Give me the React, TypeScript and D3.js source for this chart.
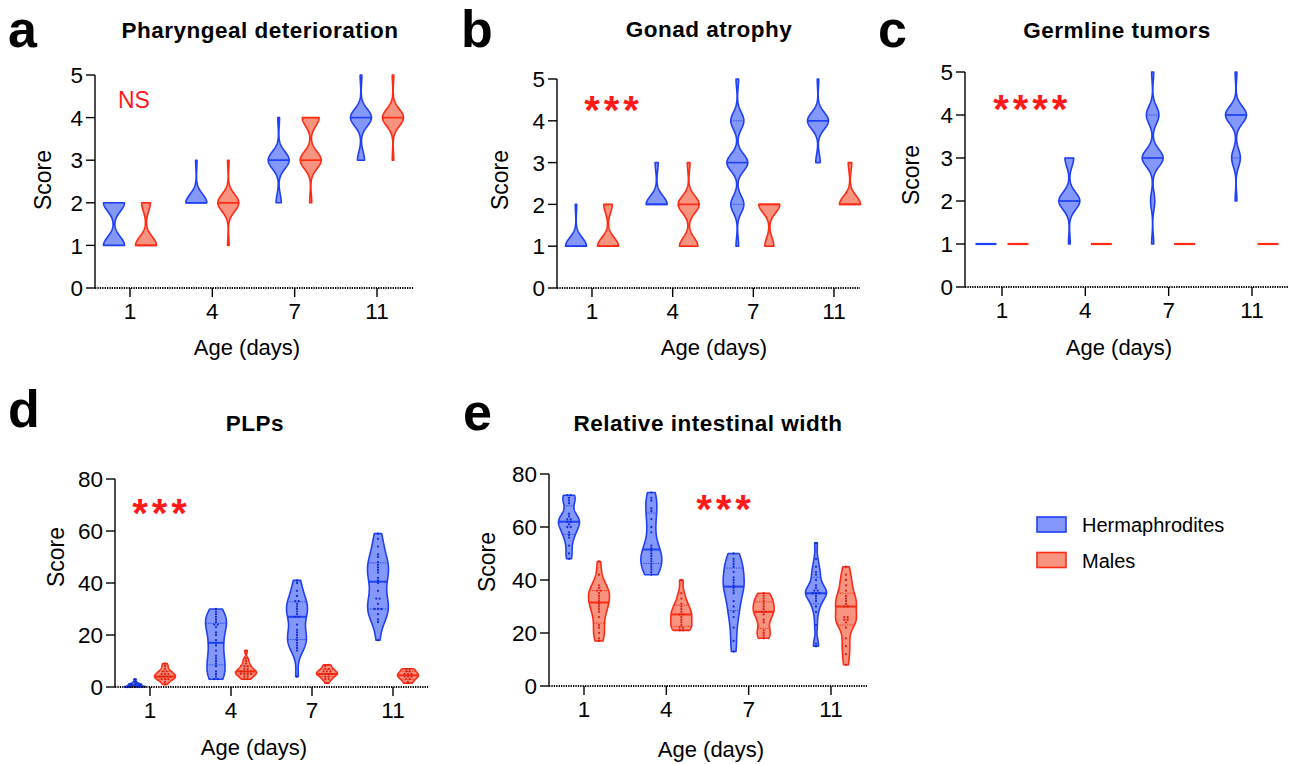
import React from 'react';
import * as d3 from 'd3';

const ages = ['1', '4', '7', '11'];
const scoreLevels = [1, 2, 3, 4, 5];

// number of animals at each score (1..5), one row per age
const pharynxHerm = [[10, 10, 0, 0, 0], [0, 15, 1, 0, 0], [0, 3, 12, 1, 0], [0, 0, 4, 12, 1]];
const pharynxMale = [[12, 5, 0, 0, 0], [1, 14, 1, 0, 0], [0, 1, 10, 8, 0], [0, 0, 1, 14, 1]];
const gonadHerm = [[15, 1, 0, 0, 0], [0, 14, 2, 0, 0], [1, 5, 8, 5, 1], [0, 0, 3, 14, 1]];
const gonadMale = [[10, 4, 0, 0, 0], [7, 8, 1, 0, 0], [3, 7, 0, 0, 0], [0, 12, 2, 0, 0]];
const tumorHerm = [[20, 0, 0, 0, 0], [1, 12, 5, 0, 0], [1, 2, 10, 6, 1], [0, 1, 5, 12, 1]];
const tumorMale = [[20, 0, 0, 0, 0], [20, 0, 0, 0, 0], [20, 0, 0, 0, 0], [20, 0, 0, 0, 0]];

// PLP counts per animal
const plpHerm = [
  [0, 0, 0, 0, 0, 0, 0, 0.5, 0.5, 1, 1, 1, 1, 1.5, 2, 3],
  [3, 3, 4, 5, 6, 8, 9, 10, 11, 12, 14, 16, 17, 18, 20, 21, 23, 24, 24, 25, 26, 27, 28, 29, 30],
  [4, 14, 15, 16, 17, 18, 19, 20, 21, 22, 24, 27, 27, 28, 29, 30, 31, 32, 33, 33, 35, 37, 40, 41],
  [18, 25, 26, 28, 30, 30, 30, 32, 34, 34, 37, 40, 41, 42, 44, 45, 46, 47, 48, 50, 51, 54, 57, 59],
];
const plpMale = [
  [1, 2, 3, 3, 3, 4, 4, 4, 4, 5, 5, 5, 6, 6, 7, 8, 9],
  [3, 3, 4, 4, 5, 5, 5, 5, 6, 6, 6, 6, 7, 7, 8, 8, 9, 10, 11, 14],
  [1.5, 3, 3, 4, 4, 5, 5, 5, 5, 6, 6, 6, 7, 7, 8, 8.5],
  [1.5, 2, 3, 3, 4, 4, 4, 5, 5, 5, 6, 6, 7, 7],
];

// relative intestinal width per animal
const gutHerm = [
  [48, 50, 53, 56, 57, 58, 60, 60, 61, 62, 62, 63, 63, 64, 65, 69, 70, 71, 72, 72],
  [42, 43, 44, 45, 46, 47, 48, 49, 50, 51, 52, 53, 58, 60, 63, 66, 67, 70, 71, 73],
  [13, 17, 22, 26, 28, 30, 32, 35, 36, 37, 38, 39, 40, 41, 43, 45, 46, 47, 48, 50],
  [15, 16, 23, 28, 30, 32, 33, 34, 35, 35, 35, 36, 36, 37, 38, 40, 42, 43, 45, 48, 54],
];
const gutMale = [
  [17, 18, 20, 22, 23, 26, 28, 29, 30, 31, 32, 33, 34, 35, 36, 36, 37, 38, 42, 47],
  [21, 21, 22, 22, 23, 24, 25, 26, 27, 27, 28, 29, 30, 31, 33, 35, 40],
  [18, 19, 20, 21, 24, 25, 27, 28, 28, 29, 30, 31, 32, 33, 34, 35],
  [8, 12, 15, 18, 22, 24, 25, 25, 26, 26, 30, 30, 31, 32, 33, 34, 36, 38, 40, 42, 45],
];

const FONT = '"Liberation Sans", Arial, Helvetica, sans-serif';
const SIG = '#FF1A1A';
const herm = { fill: '#8497FA', stroke: '#1F40F5', dot: '#1230D0' };
const male = { fill: '#F8937F', stroke: '#FF2A14', dot: '#D92416' };

const expand = (counts) => counts.flatMap((c, i) => d3.range(c).map(() => scoreLevels[i]));

const panels = [
  {
    letter: 'a', title: 'Pharyngeal deterioration', herm: pharynxHerm.map(expand), male: pharynxMale.map(expand),
    yMax: 5, yStep: 1, bw: 0.2, dots: false, offset: 16,
    left: 95, right: 413, top: 75, bottom: 288, t0: 130, t1: 377,
    letterPos: [8, 47], titlePos: [260, 38], xLabPos: [247, 355], yLabPos: [43, 180],
    sig: 'NS', sigPos: [118, 108],
  },
  {
    letter: 'b', title: 'Gonad atrophy', herm: gonadHerm.map(expand), male: gonadMale.map(expand),
    yMax: 5, yStep: 1, bw: 0.2, dots: false, offset: 16,
    left: 557, right: 860, top: 79, bottom: 288, t0: 592, t1: 834,
    letterPos: [461, 47], titlePos: [709, 37], xLabPos: [714, 355], yLabPos: [500, 180],
    stars: 3, starPos: [592, 101],
  },
  {
    letter: 'c', title: 'Germline tumors', herm: tumorHerm.map(expand), male: tumorMale.map(expand),
    yMax: 5, yStep: 1, bw: 0.2, dots: false, offset: 16,
    left: 965, right: 1288, top: 72, bottom: 287, t0: 1002, t1: 1252,
    letterPos: [878, 47], titlePos: [1117, 38], xLabPos: [1119, 355], yLabPos: [911, 175],
    stars: 4, starPos: [1001, 100],
  },
  {
    letter: 'd', title: 'PLPs', herm: plpHerm, male: plpMale,
    yMax: 80, yStep: 20, bw: null, dots: true, offset: 15,
    left: 115, right: 428, top: 479, bottom: 687, t0: 150, t1: 393,
    letterPos: [8, 427], titlePos: [255, 431], xLabPos: [254, 755], yLabPos: [56, 557],
    stars: 3, starPos: [140, 504],
  },
  {
    letter: 'e', title: 'Relative intestinal width', herm: gutHerm, male: gutMale,
    yMax: 80, yStep: 20, bw: null, dots: true, offset: 15,
    left: 549, right: 867, top: 474, bottom: 686, t0: 584, t1: 831,
    letterPos: [463, 430], titlePos: [708, 431], xLabPos: [711, 757], yLabPos: [487, 562],
    stars: 3, starPos: [704, 500],
  },
];

// Prism-style quantile, position p*(n+1)
function quantile(s, p) {
  const n = s.length;
  const pos = p * (n + 1);
  if (pos <= 1) return s[0];
  if (pos >= n) return s[n - 1];
  const i = Math.floor(pos);
  return s[i - 1] + (pos - i) * (s[i] - s[i - 1]);
}

function bandwidth(s) {
  const sd = d3.deviation(s) || 1;
  const iqr = d3.quantileSorted(s, 0.75) - d3.quantileSorted(s, 0.25);
  const spread = iqr > 0 ? Math.min(sd, iqr / 1.34) : sd;
  return 0.9 * spread * Math.pow(s.length, -0.2) * 0.8;
}

function Violin({ values, cx, y, bw, halfWidth, col, dots }) {
  const s = values.slice().sort(d3.ascending);
  const lo = s[0];
  const hi = s[s.length - 1];
  if (lo === hi) {
    return <line x1={cx - halfWidth} x2={cx + halfWidth} y1={y(lo)} y2={y(lo)} stroke={col.stroke} strokeWidth={2.2} />;
  }
  const h = bw || bandwidth(s);
  const dens = (v) => d3.sum(s, (d) => Math.exp(-0.5 * ((v - d) / h) ** 2));
  const steps = d3.range(101).map((i) => lo + ((hi - lo) * i) / 100);
  const dv = steps.map(dens);
  const w = d3.scaleLinear().domain([0, d3.max(dv)]).range([0, halfWidth]);
  const area = d3.area()
    .y((v) => y(v))
    .x0((v, i) => cx - w(dv[i]))
    .x1((v, i) => cx + w(dv[i]));

  const med = quantile(s, 0.5);
  const q1 = quantile(s, 0.25);
  const q3 = quantile(s, 0.75);
  const hw = (v) => Math.max(w(dens(v)), 1);

  // spread dots that share a row
  const rows = d3.group(s, (v) => Math.round(y(v) / 2.6));
  const pts = [];
  rows.forEach((vals) => {
    vals.forEach((v, j) => {
      const lim = Math.max(w(dens(v)) - 2, 0);
      const off = Math.max(-lim, Math.min(lim, (j - (vals.length - 1) / 2) * 3.4));
      pts.push([cx + off, y(v)]);
    });
  });

  return (
    <g>
      <path d={area(steps)} fill={col.fill} stroke={col.stroke} strokeWidth={1.6} strokeLinejoin="round" />
      {[q1, q3].map((q, i) => (
        <line key={i} x1={cx - hw(q)} x2={cx + hw(q)} y1={y(q)} y2={y(q)} stroke={col.stroke} strokeWidth={1} strokeDasharray="1.2 1.2" />
      ))}
      <line x1={cx - hw(med)} x2={cx + hw(med)} y1={y(med)} y2={y(med)} stroke={col.stroke} strokeWidth={dots ? 2 : 1.6} />
      {dots && pts.map((p, i) => <circle key={i} cx={p[0]} cy={p[1]} r={1.15} fill={col.dot} />)}
    </g>
  );
}

function Panel({ p }) {
  const y = d3.scaleLinear().domain([0, p.yMax]).range([p.bottom, p.top]);
  const x = d3.scalePoint().domain(ages).range([p.t0, p.t1]);
  const yTicks = d3.range(0, p.yMax + p.yStep / 2, p.yStep);
  return (
    <g fontFamily={FONT}>
      <text x={p.letterPos[0]} y={p.letterPos[1]} fontSize={52} fontWeight="bold">{p.letter}</text>
      <text x={p.titlePos[0]} y={p.titlePos[1]} fontSize={22.5} fontWeight="bold" letterSpacing={0.5} textAnchor="middle">{p.title}</text>

      {ages.map((a, i) => (
        <g key={a}>
          <Violin values={p.herm[i]} cx={x(a) - p.offset} y={y} bw={p.bw} halfWidth={10.5} col={herm} dots={p.dots} />
          <Violin values={p.male[i]} cx={x(a) + p.offset} y={y} bw={p.bw} halfWidth={10.5} col={male} dots={p.dots} />
        </g>
      ))}

      <line x1={p.left} x2={p.left} y1={p.top} y2={p.bottom} stroke="#000" strokeWidth={1.4} />
      {yTicks.map((t) => (
        <g key={t}>
          <line x1={p.left - 9} x2={p.left} y1={y(t)} y2={y(t)} stroke="#000" strokeWidth={1.4} />
          <text x={p.left - 12} y={y(t)} dy="0.36em" fontSize={22.5} textAnchor="end">{t}</text>
        </g>
      ))}
      <line x1={p.left} x2={p.right} y1={y(0)} y2={y(0)} stroke="#000" strokeWidth={2} strokeDasharray="1.3 1.1" />
      {ages.map((a) => (
        <g key={a}>
          <line x1={x(a)} x2={x(a)} y1={y(0)} y2={y(0) + 9} stroke="#000" strokeWidth={1.4} />
          <text x={x(a)} y={y(0) + 31} fontSize={22.5} textAnchor="middle">{a}</text>
        </g>
      ))}
      <text x={p.xLabPos[0]} y={p.xLabPos[1]} fontSize={22} textAnchor="middle">Age (days)</text>
      <text transform={`translate(${p.yLabPos[0]},${p.yLabPos[1]}) rotate(-90)`} dy="0.36em" fontSize={23} textAnchor="middle">Score</text>

      {p.sig && <text x={p.sigPos[0]} y={p.sigPos[1]} fontSize={23} fill={SIG}>{p.sig}</text>}
      {p.stars && d3.range(p.stars).map((i) => (
        <text key={i} x={p.starPos[0] + i * 19.5} y={p.starPos[1] + 23} fontSize={40} fontWeight="bold" fill={SIG} textAnchor="middle">*</text>
      ))}
    </g>
  );
}

const legendItems = [
  { label: 'Hermaphrodites', col: herm },
  { label: 'Males', col: male },
];

export default function App() {
  return (
    <svg width={1291} height={764} style={{ position: 'absolute', left: 0, top: 0, background: '#fff' }}>
      {panels.map((p) => <Panel key={p.letter} p={p} />)}
      <g fontFamily={FONT}>
        {legendItems.map((it, i) => (
          <g key={it.label} transform={`translate(1037,${517 + i * 35.5})`}>
            <rect width={29} height={15} fill={it.col.fill} stroke={it.col.stroke} strokeWidth={1.6} />
            <text x={45} y={15} fontSize={20}>{it.label}</text>
          </g>
        ))}
      </g>
    </svg>
  );
}
